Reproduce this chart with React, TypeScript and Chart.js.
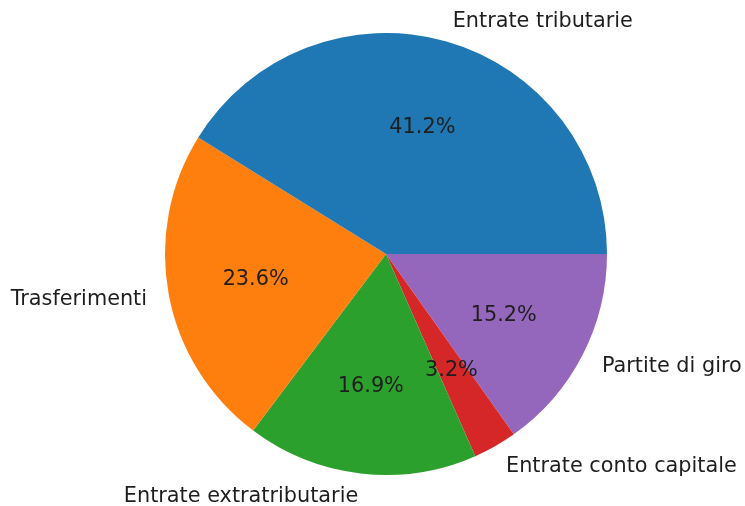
import React, { useEffect, useRef } from "react";
import { Chart, registerables } from "chart.js";

Chart.register(...registerables);

// Matplotlib order (counter-clockwise from 3 o'clock)
const categories = [
  "Entrate tributarie",
  "Trasferimenti",
  "Entrate extratributarie",
  "Entrate conto capitale",
  "Partite di giro",
];
const values = [41.2, 23.6, 16.9, 3.2, 15.2];
const colors = ["#1f77b4", "#ff7f0e", "#2ca02c", "#d62728", "#9467bd"];

const pieLabels = {
  id: "pieLabels",
  afterDatasetsDraw(chart: any) {
    const ctx = chart.ctx;
    const meta = chart.getDatasetMeta(0);
    const lbls = chart.data.labels as string[];
    const vals = chart.data.datasets[0].data as number[];
    ctx.save();
    ctx.font = '20.8px "DejaVu Sans"';
    ctx.fillStyle = "#1e1e1e";
    ctx.textBaseline = "middle";
    meta.data.forEach((arc: any, i: number) => {
      const { x, y, startAngle, endAngle, outerRadius } = arc.getProps(
        ["x", "y", "startAngle", "endAngle", "outerRadius"],
        true
      );
      const mid = (startAngle + endAngle) / 2;
      const c = Math.cos(mid);
      const s = Math.sin(mid);
      // outer label
      const lx = x + c * outerRadius * 1.1;
      const ly = y + s * outerRadius * 1.1 + 1;
      ctx.textAlign = c > 0 ? "left" : "right";
      ctx.fillText(lbls[i], lx, ly);
      // percentage
      const px = x + c * outerRadius * 0.6;
      const py = y + s * outerRadius * 0.6 + 1;
      ctx.textAlign = "center";
      ctx.fillText(vals[i].toFixed(1) + "%", px, py);
    });
    ctx.restore();
  },
};

export default function App() {
  const ref = useRef<HTMLCanvasElement | null>(null);
  useEffect(() => {
    document.body.style.margin = "0";
    if (!ref.current) return;
    // Chart.js draws clockwise, so reverse to mimic matplotlib's counter-clockwise order
    const lbls = [...categories].reverse();
    const vals = [...values].reverse();
    const cols = [...colors].reverse();
    const chart = new Chart(ref.current, {
      type: "pie",
      data: {
        labels: lbls,
        datasets: [
          {
            data: vals,
            backgroundColor: cols,
            borderWidth: 0,
          },
        ],
      },
      options: {
        animation: false,
        responsive: true,
        maintainAspectRatio: false,
        rotation: 90,
        layout: { padding: { left: 165, right: 138, top: 33, bottom: 31 } },
        plugins: {
          legend: { display: false },
          tooltip: { enabled: false },
        },
      },
      plugins: [pieLabels],
    });
    return () => chart.destroy();
  }, []);
  return (
    <div style={{ width: 745, height: 506, position: "relative", background: "#fff" }}>
      <canvas ref={ref} />
    </div>
  );
}
